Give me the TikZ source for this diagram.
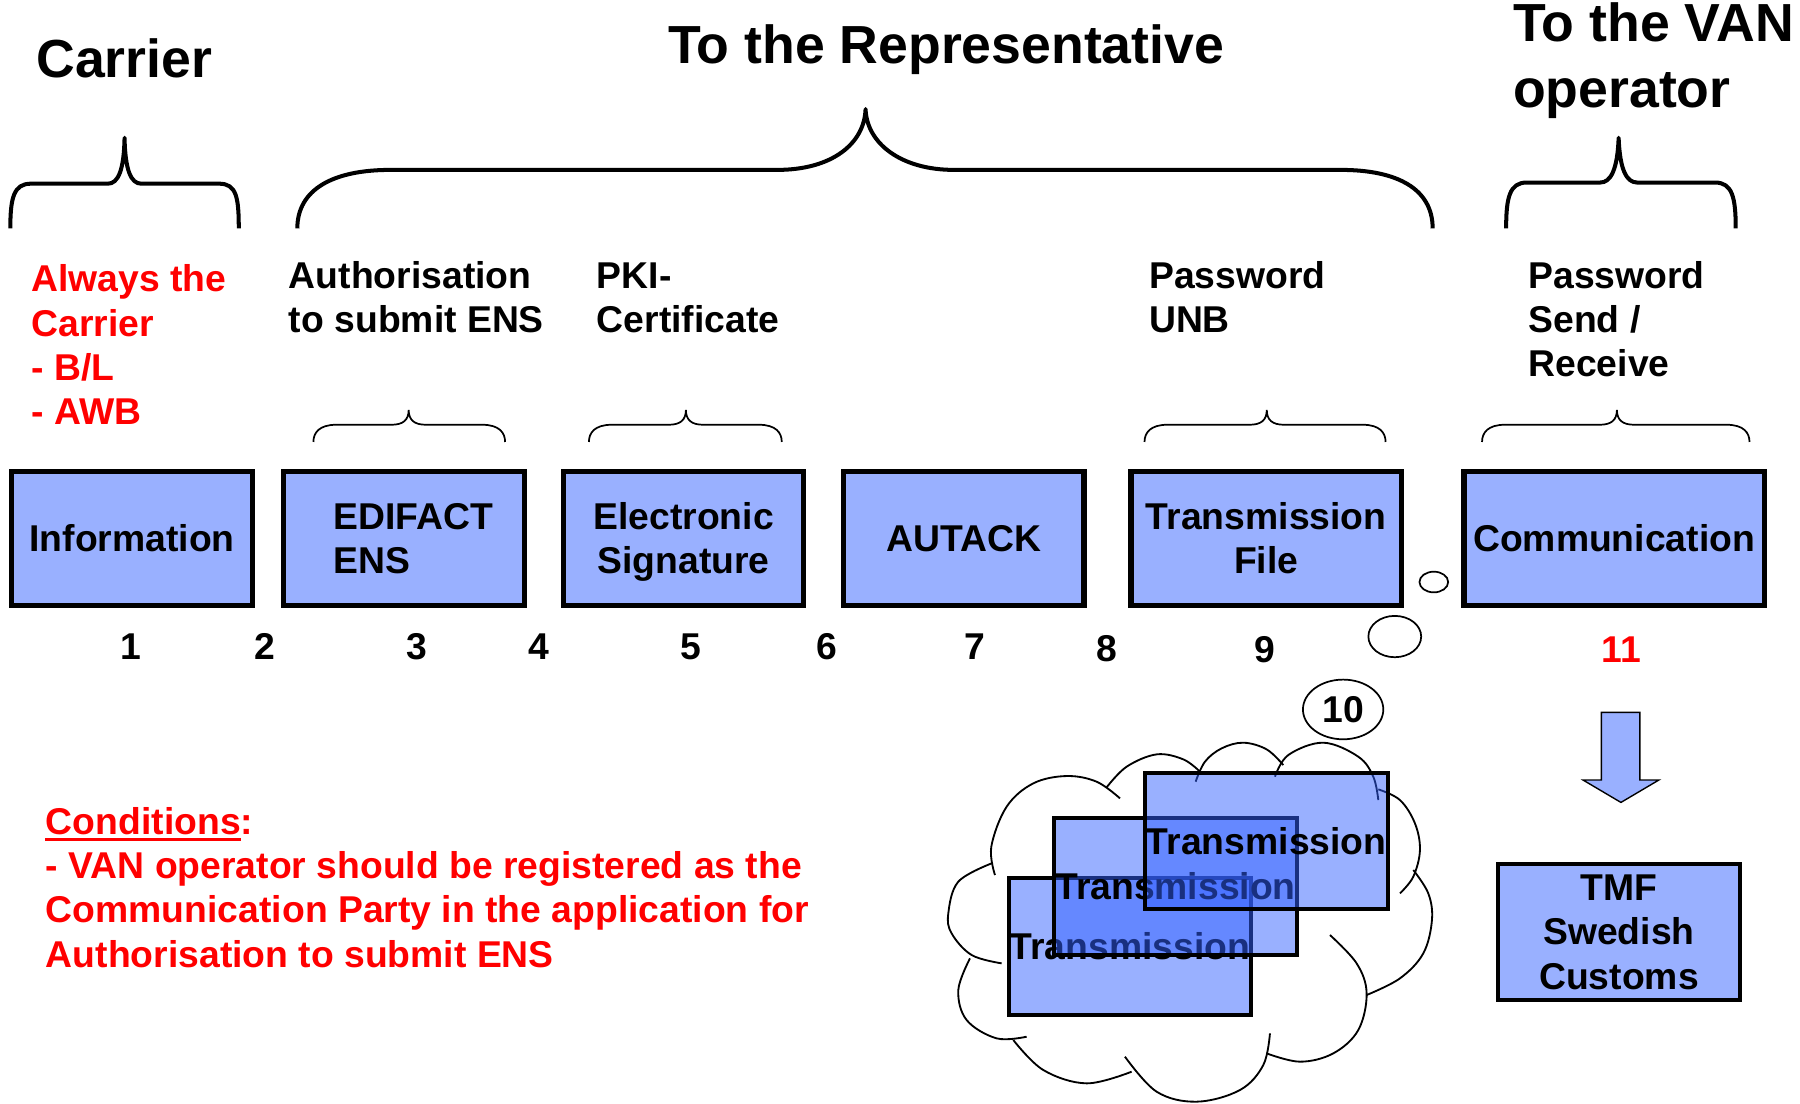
\documentclass[tikz,border=0pt]{standalone}
\usepackage{fontspec}
\setmainfont{Liberation Sans}
\usetikzlibrary{shapes.geometric}
\definecolor{boxblue}{RGB}{153,176,255}
\definecolor{tblue}{RGB}{51,97,255}
\definecolor{redtxt}{RGB}{255,0,0}
\newcommand\myBody{\fontsize{32.5}{38.7}\selectfont\bfseries}
\newcommand\myTitle{\fontsize{46.7}{57}\selectfont\bfseries}
\newcommand\mySmallBrace[3]{%
  \draw[smallbrace] (#1,385) .. controls (#1,377) and ({#1+5},370) .. ({#1+20},370)
    -- ({#2-15},370) .. controls ({#2-5},370) and (#2,366) .. (#2,357)
    .. controls (#2,366) and ({#2+5},370) .. ({#2+15},370)
    -- ({#3-20},370) .. controls ({#3-5},370) and (#3,377) .. (#3,385);}
\begin{document}
\begin{tikzpicture}[x=1pt, y=-1pt,
  every node/.style={inner sep=0pt, outer sep=0pt},
  title/.style={font=\myTitle, anchor=base west, align=left},
  lbl/.style={font=\myBody, anchor=base west, align=left},
  num/.style={font=\myBody, anchor=base},
  mainbox/.style={draw=black, line width=4.5pt, fill=boxblue, minimum width=209.5pt,
    minimum height=116.5pt, font=\myBody, align=center},
  trbox/.style={draw=black, line width=3.5pt, fill=tblue, fill opacity=0.5, text opacity=1,
    draw opacity=1, minimum width=211.5pt, minimum height=119pt, font=\myBody},
  bigbrace/.style={line width=3.5pt, line join=round},
  smallbrace/.style={line width=1.5pt},
  bubble/.style={draw, ellipse, line width=1.5pt},
  cloudline/.style={line width=1.6pt, smooth, tension=0.6},
  blockarrow/.style={draw=black, line width=1.2pt, fill=boxblue, line join=miter}
]
\useasboundingbox (0,0) rectangle (1568,961);

% titles (base = baseline of the last line)
\node[title] (tcarrier) at (31.7,67.4) {Carrier};
\node[title] (trep) at (582,55.2) {To the Representative};
\node[title] (tvan) at (1318,93.3) {To the VAN\\operator};

% big braces
\draw[bigbrace] (9,199) .. controls (9,172) and (12,160) .. (27,160) -- (94,160)
  .. controls (103,160) and (108,148) .. (108.5,120)
  .. controls (109,148) and (114,160) .. (123,160) -- (191,160)
  .. controls (206,160) and (208,172) .. (208,199);
\draw[bigbrace] (259,199) .. controls (259,165) and (290,148) .. (340,148) -- (677,148)
  .. controls (725,148) and (753,125) .. (754,95)
  .. controls (755,125) and (785,148) .. (831,148) -- (1168,148)
  .. controls (1218,148) and (1248,165) .. (1248,199);
\draw[bigbrace] (1312,199) .. controls (1312,172) and (1315,159) .. (1330,159) -- (1394,159)
  .. controls (1403,159) and (1409,148) .. (1410,120)
  .. controls (1411,148) and (1417,159) .. (1426,159) -- (1494,159)
  .. controls (1509,159) and (1512,172) .. (1512,199);

% small braces
\mySmallBrace{273}{356}{440}
\mySmallBrace{513}{597.5}{681}
\mySmallBrace{997}{1103.5}{1207}
\mySmallBrace{1291}{1408.5}{1524}

% labels (base = baseline of the last line)
\node[lbl, text=redtxt] (lalways) at (27.3,370.1) {Always the\\Carrier\\- B/L\\- AWB};
\node[lbl] (lauth) at (251.7,289.7) {Authorisation\\to submit ENS};
\node[lbl] (lpki) at (520,289.7) {PKI-\\Certificate};
\node[lbl] (lunb) at (1001,289.7) {Password\\UNB};
\node[lbl] (lsend) at (1331.5,328.4) {Password\\Send /\\Receive};

% main boxes
\node[mainbox] (info) at (115,469) {Information};
\node[mainbox, align=left] (edi) at (352,469) {\hspace*{16pt}EDIFACT\\\hspace*{16pt}ENS};
\node[mainbox] (esig) at (595.5,469) {\rule{0pt}{29.7pt}Electronic\\Signature};
\node[mainbox] (autack) at (839.5,469) {AUTACK};
\node[mainbox, minimum width=235.5pt] (tfile) at (1103,469) {Transmission\\File};
\node[mainbox, minimum width=261.5pt] (comm) at (1406,469) {Communication};

% numbers
\node[num] (n1) at (114,574.5) {1};
\node[num] (n2) at (231,574.5) {2};
\node[num] (n3) at (363.5,574.5) {3};
\node[num] (n4) at (469,574.5) {4};
\node[num] (n5) at (601.5,574.5) {5};
\node[num] (n6) at (720,574.5) {6};
\node[num] (n7) at (849,574.5) {7};
\node[num] (n8) at (964,576) {8};
\node[num] (n9) at (1101.5,577.5) {9};
\node[num, text=redtxt] (n11) at (1412.5,577.5) {11};

% thought bubbles
\node[bubble, minimum width=25pt, minimum height=18pt] (bub1) at (1249,507) {};
\node[bubble, minimum width=46pt, minimum height=36pt] (bub2) at (1215,554.5) {};
\node[bubble, minimum width=70pt, minimum height=52pt, font=\myBody] (bub3) at (1170,618) {10};

% cloud
\begin{scope}[shift={(810.1,609.8)}, scale=0.29036]
\draw[cloudline] plot coordinates {(195,525) (184,440) (230,320) (310,250) (410,228) (500,245) (570,295)};
\draw[cloudline] plot coordinates {(530,262) (590,200) (680,163) (760,178) (810,215)};
\draw[cloudline] plot coordinates {(797,245) (825,185) (875,145) (940,128) (1010,148) (1060,195)};
\draw[cloudline] plot coordinates {(1035,230) (1075,165) (1180,128) (1285,170) (1330,230) (1345,300)};
\draw[cloudline] plot coordinates {(1345,268) (1410,300) (1455,370) (1470,450) (1450,530) (1410,580)};
\draw[cloudline] plot coordinates {(1450,510) (1495,580) (1506,660) (1480,760) (1410,835) (1310,885)};
\draw[cloudline] plot coordinates {(1200,705) (1280,790) (1310,880) (1285,990) (1210,1060) (1110,1085) (1010,1060)};
\draw[cloudline] plot coordinates {(1020,1000) (1000,1095) (930,1170) (800,1205) (680,1175) (585,1070)};
\draw[cloudline] plot coordinates {(605,1115) (470,1150) (340,1110) (250,1020)};
\draw[cloudline] plot coordinates {(290,1010) (200,1015) (110,960) (85,870) (120,775)};
\draw[cloudline] plot coordinates {(215,790) (125,765) (65,700) (55,640) (85,545) (185,490)};
\end{scope}

% transmission sheets in the cloud
\node[trbox] (tr3) at (984.3,824.6) {Transmission};
\node[trbox] (tr2) at (1024,772) {Transmission};
\node[trbox] (tr1) at (1103,732.6) {Transmission};

% block arrow and TMF box
\draw[blockarrow] (1395,620.5) -- (1428.5,620.5) -- (1428.5,679.5) -- (1445,679.5)
  -- (1412,699) -- (1379,679.5) -- (1395,679.5) -- cycle;
\node[mainbox, line width=3.5pt, minimum width=211pt, minimum height=119pt] (tmf) at (1410.3,811.8) {TMF\\Swedish\\Customs};

% conditions
\node[lbl, text=redtxt] (cond) at (40,842.6) {Conditions:\\- VAN operator should be registered as the\\Communication Party in the application for\\Authorisation to submit ENS};
\draw[redtxt, line width=2.7pt] (39.5,731.5) -- (209.5,731.5);
\end{tikzpicture}
\end{document}
